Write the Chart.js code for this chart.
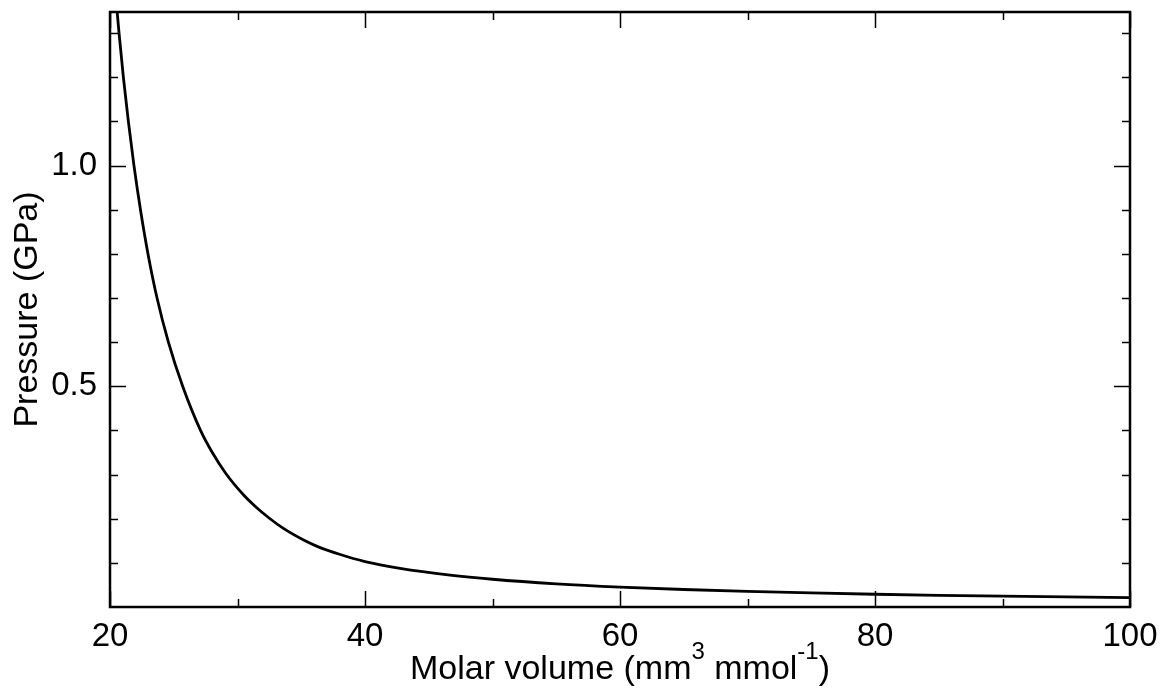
<!DOCTYPE html>
<html>
<head>
<meta charset="utf-8">
<script src="https://cdn.jsdelivr.net/npm/chart.js@4.4.1/dist/chart.umd.min.js"></script>
<style>
  html, body { margin: 0; padding: 0; background: #ffffff; }
  #wrap { width: 1162px; height: 696px; position: relative; }
</style>
</head>
<body>
<div id="wrap"><canvas id="c" width="1162" height="696"></canvas></div>
<script>
// Molar volume (mm3 mmol-1)
const molarVolume = [20.4, 20.71, 21.05, 21.44, 21.88, 22.39, 22.98, 23.69, 24.58, 25.7, 27.1, 28.0, 29.1, 30.5, 31.4, 32.5, 33.6, 35.3, 36.2, 38, 40, 42.75, 46.67, 50, 55, 60, 65, 70, 75, 80, 85, 90, 95, 100];
// Pressure (GPa)
const pressure = [1.40, 1.30, 1.20, 1.10, 1.00, 0.90, 0.80, 0.70, 0.60, 0.50, 0.40, 0.351, 0.302, 0.2532, 0.2278, 0.2011, 0.178, 0.15, 0.138, 0.1195, 0.103, 0.0877, 0.0723, 0.0629, 0.0526, 0.0452, 0.0397, 0.0353, 0.0318, 0.0289, 0.0265, 0.0245, 0.0228, 0.0213];
// Axis ticks
const xTicks = [20, 30, 40, 50, 60, 70, 80, 90, 100];
const xTickLabels = ['20', '', '40', '', '60', '', '80', '', '100'];
const yTicks = [0.1, 0.2, 0.3, 0.4, 0.5, 0.6, 0.7, 0.8, 0.9, 1.0, 1.1, 1.2, 1.3];
const yLabelled = [0.5, 1.0];
const xTitleParts = [
  { t: 'Molar volume (mm', sup: false },
  { t: '3', sup: true },
  { t: ' mmol', sup: false },
  { t: '-1', sup: true },
  { t: ')', sup: false }
];
const yTitle = 'Pressure (GPa)';

const FONT = '"Liberation Sans", Arial, sans-serif';

const points = molarVolume.map((v, i) => ({ x: v, y: pressure[i] }));

const frameTicks = {
  id: 'frameTicks',
  afterDatasetsDraw(chart) {
    const { ctx, chartArea: a, scales } = chart;
    const xs = scales.x, ys = scales.y;
    ctx.save();
    ctx.strokeStyle = '#000';
    ctx.lineWidth = 1.5;
    ctx.beginPath();
    xTicks.forEach((v, i) => {
      const px = Math.round(xs.getPixelForValue(v)) + 0.5;
      const len = xTickLabels[i] !== '' ? 16 : 8;
      ctx.moveTo(px, a.bottom); ctx.lineTo(px, a.bottom - len);
      ctx.moveTo(px, a.top); ctx.lineTo(px, a.top + len);
    });
    yTicks.forEach(v => {
      const py = Math.round(ys.getPixelForValue(v)) + 0.5;
      const major = yLabelled.some(l => Math.abs(l - v) < 1e-6);
      const len = major ? 16 : 8;
      ctx.moveTo(a.left, py); ctx.lineTo(a.left + len, py);
      ctx.moveTo(a.right, py); ctx.lineTo(a.right - len, py);
    });
    ctx.stroke();
    ctx.lineWidth = 2.5;
    ctx.strokeRect(a.left, a.top, a.right - a.left, a.bottom - a.top);
    ctx.restore();
  },
  afterDraw(chart) {
    const { ctx, chartArea: a } = chart;
    ctx.save();
    ctx.fillStyle = '#000';
    ctx.textBaseline = 'alphabetic';
    const big = '34px ' + FONT, small = '24px ' + FONT;
    let total = 0;
    xTitleParts.forEach(p => { ctx.font = p.sup ? small : big; total += ctx.measureText(p.t).width; });
    let x = (a.left + a.right) / 2 - total / 2;
    const base = 679;
    ctx.textAlign = 'left';
    xTitleParts.forEach(p => {
      ctx.font = p.sup ? small : big;
      ctx.fillText(p.t, x, p.sup ? base - 20 : base);
      x += ctx.measureText(p.t).width;
    });
    ctx.restore();
  }
};

new Chart(document.getElementById('c'), {
  type: 'scatter',
  data: {
    datasets: [{
      data: points,
      showLine: true,
      borderColor: '#000',
      borderWidth: 2.8,
      pointRadius: 0,
      fill: false,
      cubicInterpolationMode: 'monotone'
    }]
  },
  options: {
    responsive: false,
    animation: false,
    devicePixelRatio: 1,
    layout: { padding: { top: 12, right: 32, left: 0, bottom: 0 } },
    plugins: { legend: { display: false }, tooltip: { enabled: false } },
    scales: {
      x: {
        type: 'linear', min: 20, max: 100,
        afterFit(s) { s.height = 89; s.paddingLeft = 0; s.paddingRight = 0; },
        afterBuildTicks(s) { s.ticks = xTicks.map(v => ({ value: v })); },
        grid: { display: false, drawTicks: false },
        border: { display: false },
        ticks: {
          autoSkip: false, maxRotation: 0, padding: 10, color: '#000',
          font: { family: FONT, size: 33 },
          callback(v) { const i = xTicks.indexOf(v); return i >= 0 ? xTickLabels[i] : ''; }
        }
      },
      y: {
        type: 'linear', min: 0, max: 1.348,
        afterFit(s) { s.width = 110; s.paddingTop = 0; s.paddingBottom = 0; },
        afterBuildTicks(s) { s.ticks = yTicks.map(v => ({ value: v })); },
        grid: { display: false, drawTicks: false },
        border: { display: false },
        ticks: {
          autoSkip: false, padding: 13, color: '#000',
          font: { family: FONT, size: 33 },
          callback(v) { return yLabelled.some(l => Math.abs(l - v) < 1e-6) ? v.toFixed(1) : ''; }
        },
        title: {
          display: true, text: yTitle, color: '#000',
          font: { family: FONT, size: 34 }, padding: { top: 7, bottom: 0 }
        }
      }
    }
  },
  plugins: [frameTicks]
});
</script>
</body>
</html>
